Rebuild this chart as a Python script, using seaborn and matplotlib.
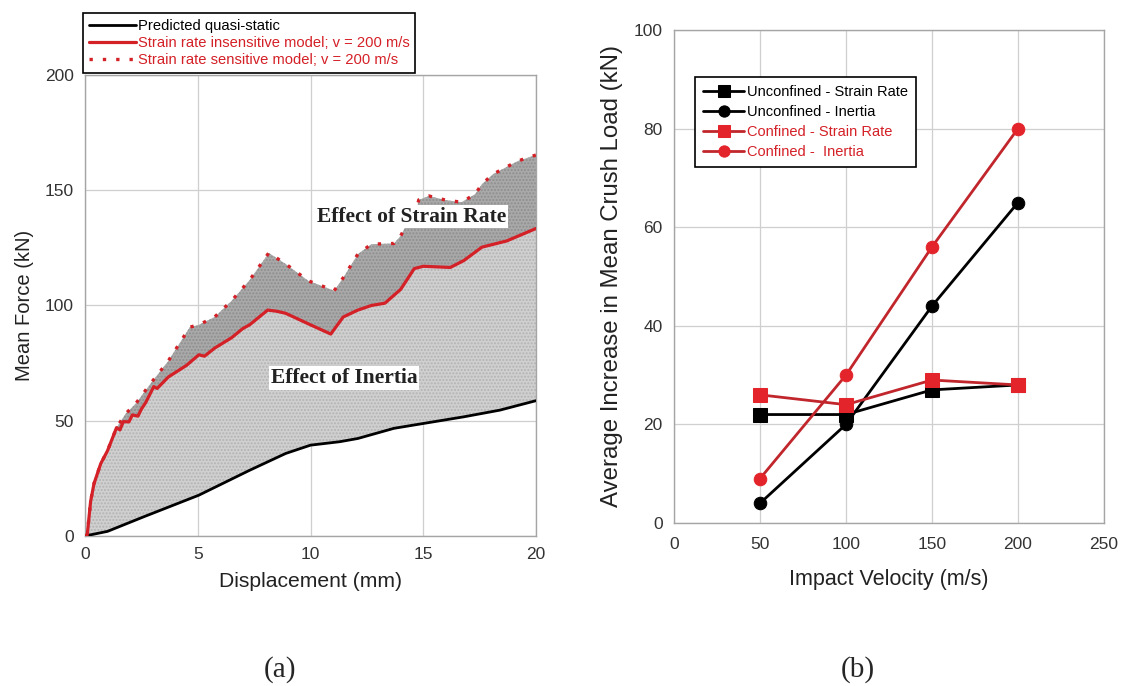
import numpy as np
import pandas as pd
import matplotlib
matplotlib.use("Agg")
import matplotlib.pyplot as plt
import seaborn as sns

# (a) mean force vs displacement
quasi_x = [0, 1.0, 2.6, 5.05, 7.3, 8.9, 10.0, 11.3, 12.1, 13.7, 15.0, 16.8, 18.4, 20.0]
quasi_y = [0, 2, 8.3, 17.7, 28.5, 35.8, 39.4, 40.9, 42.3, 46.7, 48.8, 51.7, 54.6, 58.7]

insens_x = [0, 0.1, 0.25, 0.4, 0.7, 1.0, 1.4, 1.55, 1.7, 1.95, 2.1, 2.35, 2.5, 2.7, 3.05,
            3.2, 3.7, 4.5, 5.05, 5.3, 5.75, 6.5, 7.0, 7.3, 8.1, 8.5, 8.9, 10.0, 10.9, 11.45,
            12.1, 12.7, 13.3, 14.0, 14.6, 15.0, 16.2, 16.8, 17.6, 18.7, 20.0]
insens_y = [0, 0.5, 15, 22.7, 31.4, 37, 47, 46, 49.6, 49.5, 52.5, 52, 55, 58, 64.8,
            64, 69, 74, 78.6, 78, 81.5, 86, 90, 91.6, 98, 97.5, 96.6, 91.6, 87.6, 95,
            98, 100, 101, 107, 116, 117, 116.5, 119.5, 125.3, 128, 133.4]

sens_x = [0, 0.1, 0.25, 0.4, 0.7, 1.0, 1.4, 1.8, 2.25, 2.9, 3.7, 4.65, 5.05, 5.75, 6.5,
          7.3, 8.15, 8.9, 9.9, 10.5, 11.05, 11.45, 12.1, 12.7, 13.7, 14.0, 14.3, 14.6,
          14.8, 15.25, 16.0, 16.7, 17.3, 17.6, 18.1, 19.2, 20.0]
sens_y = [0, 0.5, 15, 22.7, 31.4, 37, 47, 53, 57.4, 66, 76, 90.6, 91.6, 95, 102,
          111, 122.8, 118, 110.7, 108.5, 106.4, 112, 122.3, 126.6, 126.9, 130.2, 136, 137,
          145.8, 147.5, 145.7, 144.8, 148.3, 152.6, 157, 162.7, 165.3]

# (b) average increase in mean crush load
velocity = [50, 100, 150, 200]
unconf_sr = [22, 22, 27, 28]
unconf_in = [4, 20, 44, 65]
conf_sr = [26, 24, 29, 28]
conf_in = [9, 30, 56, 80]

sns.set_theme(style="whitegrid")
plt.rcParams['font.family'] = ['Liberation Sans', 'DejaVu Sans']

RED = '#d42027'
GRID = '#cfcfcf'
SPINE = '#a5a5a5'

fig = plt.figure(figsize=(11.24, 6.86), dpi=100)
fig.patch.set_facecolor('white')
ax1 = fig.add_axes([0.0756, 0.2187, 0.4013, 0.672])
ax2 = fig.add_axes([0.5996, 0.2376, 0.3826, 0.7187])

for ax in (ax1, ax2):
    ax.set_facecolor('white')
    ax.grid(True, color=GRID, lw=0.9)
    for s in ax.spines.values():
        s.set_color(SPINE)
        s.set_linewidth(1.0)
    ax.tick_params(length=0, labelsize=12.5, colors='#333333', pad=8)

# ---- (a) ----
# shaded regions: strain rate effect (between dotted and solid red), inertia effect (between red and black)
ax1.fill(np.concatenate([sens_x, insens_x[::-1]]), np.concatenate([sens_y, insens_y[::-1]]),
         facecolor='#a9a9a9', edgecolor='#8e8e8e', hatch='.....', lw=0, zorder=2)
ax1.fill(np.concatenate([insens_x, quasi_x[::-1]]), np.concatenate([insens_y, quasi_y[::-1]]),
         facecolor='#d0d0d0', edgecolor='#b3b3b3', hatch='.....', lw=0, zorder=2)

sns.lineplot(x=quasi_x, y=quasi_y, ax=ax1, color='black', lw=2, sort=False,
             label='Predicted quasi-static', zorder=4)
sns.lineplot(x=insens_x, y=insens_y, ax=ax1, color=RED, lw=2.3, sort=False,
             label='Strain rate insensitive model; v = 200 m/s', zorder=4)
sns.lineplot(x=sens_x, y=sens_y, ax=ax1, color=RED, lw=2.4, sort=False,
             linestyle=(0, (1, 3.0)), label='Strain rate sensitive model; v = 200 m/s', zorder=3)

ax1.set_xlim(0, 20)
ax1.set_ylim(0, 200)
ax1.set_xticks([0, 5, 10, 15, 20])
ax1.set_yticks([0, 50, 100, 150, 200])
ax1.set_xlabel('Displacement (mm)', fontsize=15.2, color='#222222', labelpad=7)
ax1.set_ylabel('Mean Force (kN)', fontsize=14.5, color='#222222', labelpad=8)

ax1.text(14.5, 138.5, 'Effect of Strain Rate', family='Liberation Serif', weight='bold',
         fontsize=15.5, ha='center', va='center', color='#222222', zorder=5,
         bbox=dict(facecolor='white', edgecolor='none', pad=1.2))
ax1.text(11.5, 68.5, 'Effect of Inertia', family='Liberation Serif', weight='bold',
         fontsize=15.5, ha='center', va='center', color='#222222', zorder=5,
         bbox=dict(facecolor='white', edgecolor='none', pad=1.2))

leg1 = ax1.legend(loc='upper left', bbox_to_anchor=(-0.004, 1.134), borderaxespad=0,
                  fontsize=10.6, handlelength=3.2, handletextpad=0.1, labelspacing=0.2,
                  borderpad=0.4, fancybox=False, framealpha=1)
leg1.get_frame().set_edgecolor('black')
leg1.get_frame().set_linewidth(1.2)
for t, c in zip(leg1.get_texts(), ['black', RED, RED]):
    t.set_color(c)

# ---- (b) ----
series = [
    ('Unconfined - Strain Rate', unconf_sr, 's', 'black', 'black'),
    ('Unconfined - Inertia', unconf_in, 'o', 'black', 'black'),
    ('Confined - Strain Rate', conf_sr, 's', '#c0262c', '#e3242a'),
    ('Confined -  Inertia', conf_in, 'o', '#c0262c', '#e3242a'),
]
for name, vals, mk, lc, mc in series:
    sns.lineplot(x=velocity, y=vals, ax=ax2, color=lc, lw=2, marker=mk,
                 markersize=10 if mk == 's' else 9, markerfacecolor=mc,
                 markeredgecolor=mc, label=name, zorder=3)

ax2.set_xlim(0, 250)
ax2.set_ylim(0, 100)
ax2.set_xticks([0, 50, 100, 150, 200, 250])
ax2.set_yticks([0, 20, 40, 60, 80, 100])
ax2.set_xlabel('Impact Velocity (m/s)', fontsize=15.5, color='#222222', labelpad=12)
ax2.set_ylabel('Average Increase in Mean Crush Load (kN)', fontsize=17.3, color='#222222', labelpad=8)
ax2.tick_params(axis='x', pad=10)

leg2 = ax2.legend(loc='upper left', bbox_to_anchor=(0.05, 0.905), borderaxespad=0,
                  fontsize=10.5, handlelength=2.8, handletextpad=0.2, labelspacing=0.42,
                  borderpad=0.55, fancybox=False, framealpha=1, markerscale=0.9)
leg2.get_frame().set_edgecolor('black')
leg2.get_frame().set_linewidth(1.2)
for t, c in zip(leg2.get_texts(), ['black', 'black', '#d42027', '#d42027']):
    t.set_color(c)

fig.text(280 / 1124, 1 - 670 / 686, '(a)', family='Liberation Serif', fontsize=21,
         ha='center', va='center')
fig.text(858 / 1124, 1 - 670 / 686, '(b)', family='Liberation Serif', fontsize=21,
         ha='center', va='center')

fig.savefig('out.png', dpi=100, facecolor='white')
plt.close(fig)
